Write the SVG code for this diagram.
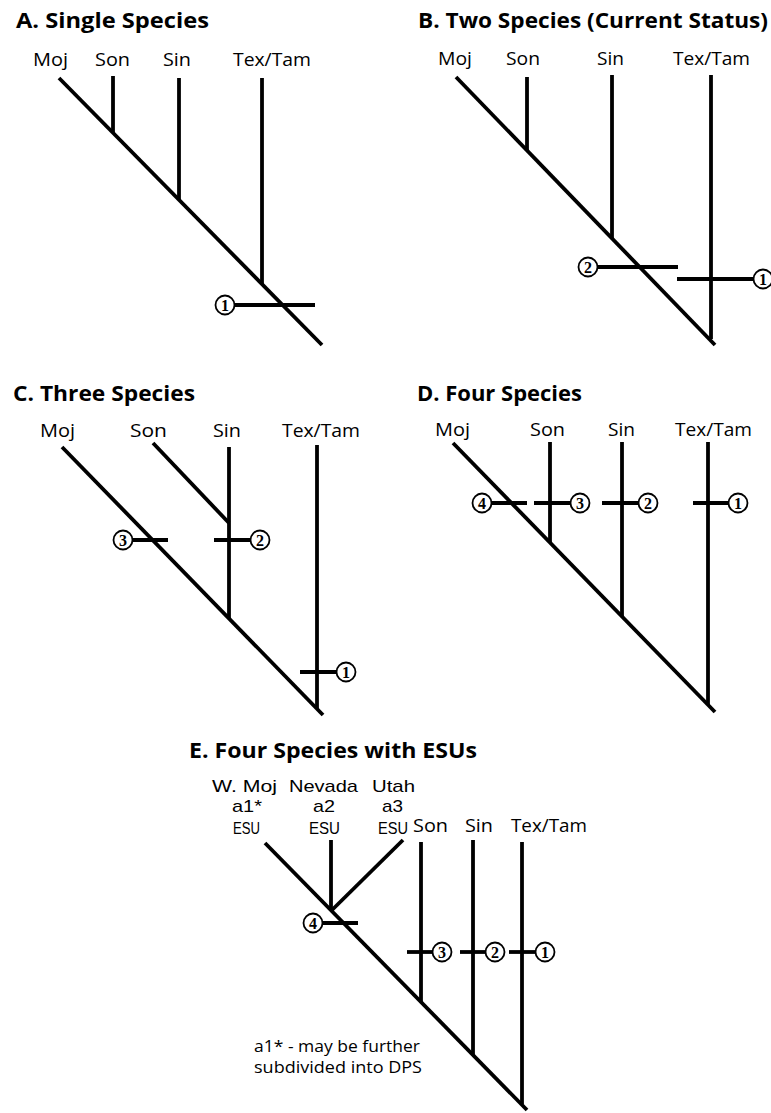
<svg xmlns="http://www.w3.org/2000/svg" width="771" height="1113" viewBox="0 0 771 1113">
<style>
.t{font-family:"Open Sans","Liberation Sans",sans-serif;font-weight:700;font-size:21px;fill:#000}
.l{font-family:"Open Sans","Liberation Sans",sans-serif;font-size:18px;fill:#000}
.e{font-family:"Liberation Sans","Open Sans",sans-serif;font-size:17px;fill:#000}
.s{font-family:"Liberation Sans","Open Sans",sans-serif;font-size:16px;fill:#000}
.f{font-family:"Open Sans","Liberation Sans",sans-serif;font-size:15.5px;fill:#000}
.br{stroke:#000;stroke-width:3.8;fill:none;stroke-linecap:butt}
.c{fill:#fff;stroke:#000;stroke-width:1.8}
.n{font-family:"Liberation Serif",serif;font-weight:700;font-size:16px;fill:#000;text-anchor:middle}
</style>
<rect width="771" height="1113" fill="#fff"/>

<g id="panelA">
<text class="t" x="16" y="28" textLength="193" lengthAdjust="spacingAndGlyphs">A.  Single Species</text>
<g id="A-labels">
<text class="l" x="33" y="66" textLength="35" lengthAdjust="spacingAndGlyphs">Moj</text>
<text class="l" x="95" y="66" textLength="35" lengthAdjust="spacingAndGlyphs">Son</text>
<text class="l" x="163" y="66" textLength="28" lengthAdjust="spacingAndGlyphs">Sin</text>
<text class="l" x="233" y="66" textLength="78" lengthAdjust="spacingAndGlyphs">Tex/Tam</text>
</g>
<g id="A-branches">
<line class="br" x1="59" y1="78" x2="322" y2="345"/>
<line class="br" x1="113" y1="76" x2="113" y2="133"/>
<line class="br" x1="179" y1="78" x2="179" y2="200"/>
<line class="br" x1="262" y1="78" x2="262" y2="284"/>
<line class="br" x1="234" y1="305" x2="315" y2="305"/>
</g>
<g id="A-m1"><circle class="c" cx="225" cy="305" r="9.5"/><text class="n" x="225" y="310.5">1</text></g>
</g>

<g id="panelB">
<text class="t" x="418" y="28" textLength="350" lengthAdjust="spacingAndGlyphs">B. Two Species (Current Status)</text>
<g id="B-labels">
<text class="l" x="438" y="65" textLength="34" lengthAdjust="spacingAndGlyphs">Moj</text>
<text class="l" x="506" y="65" textLength="34" lengthAdjust="spacingAndGlyphs">Son</text>
<text class="l" x="597" y="65" textLength="27" lengthAdjust="spacingAndGlyphs">Sin</text>
<text class="l" x="673" y="65" textLength="77" lengthAdjust="spacingAndGlyphs">Tex/Tam</text>
</g>
<g id="B-branches">
<line class="br" x1="456" y1="77" x2="715" y2="345"/>
<line class="br" x1="527" y1="77" x2="527" y2="150"/>
<line class="br" x1="612" y1="75" x2="612" y2="238"/>
<line class="br" x1="711" y1="75" x2="711" y2="339"/>
<line class="br" x1="597" y1="267" x2="678" y2="267"/>
<line class="br" x1="677" y1="279" x2="754" y2="279"/>
</g>
<g id="B-m2"><circle class="c" cx="588" cy="267" r="9.5"/><text class="n" x="588" y="272.5">2</text></g>
<g id="B-m1"><circle class="c" cx="763" cy="279" r="9.5"/><text class="n" x="763" y="284.5">1</text></g>
</g>

<g id="panelC">
<text class="t" x="13" y="401" textLength="182" lengthAdjust="spacingAndGlyphs">C. Three Species</text>
<g id="C-labels">
<text class="l" x="40" y="437" textLength="35" lengthAdjust="spacingAndGlyphs">Moj</text>
<text class="l" x="130" y="437" textLength="37" lengthAdjust="spacingAndGlyphs">Son</text>
<text class="l" x="213" y="437" textLength="28" lengthAdjust="spacingAndGlyphs">Sin</text>
<text class="l" x="282" y="437" textLength="78" lengthAdjust="spacingAndGlyphs">Tex/Tam</text>
</g>
<g id="C-branches">
<line class="br" x1="62" y1="447" x2="323" y2="715"/>
<line class="br" x1="153" y1="443" x2="229" y2="523"/>
<line class="br" x1="229" y1="447" x2="229" y2="618"/>
<line class="br" x1="317" y1="445" x2="317" y2="709"/>
<line class="br" x1="132" y1="540" x2="168" y2="540"/>
<line class="br" x1="214" y1="540" x2="251" y2="540"/>
<line class="br" x1="300" y1="672" x2="337" y2="672"/>
</g>
<g id="C-m3"><circle class="c" cx="123" cy="540" r="9.5"/><text class="n" x="123" y="545.5">3</text></g>
<g id="C-m2"><circle class="c" cx="260" cy="540" r="9.5"/><text class="n" x="260" y="545.5">2</text></g>
<g id="C-m1"><circle class="c" cx="346" cy="672" r="9.5"/><text class="n" x="346" y="677.5">1</text></g>
</g>

<g id="panelD">
<text class="t" x="417" y="401" textLength="165" lengthAdjust="spacingAndGlyphs">D. Four Species</text>
<g id="D-labels">
<text class="l" x="435" y="436" textLength="35" lengthAdjust="spacingAndGlyphs">Moj</text>
<text class="l" x="530" y="436" textLength="35" lengthAdjust="spacingAndGlyphs">Son</text>
<text class="l" x="608" y="436" textLength="27" lengthAdjust="spacingAndGlyphs">Sin</text>
<text class="l" x="675" y="436" textLength="77" lengthAdjust="spacingAndGlyphs">Tex/Tam</text>
</g>
<g id="D-branches">
<line class="br" x1="453" y1="443" x2="715" y2="712"/>
<line class="br" x1="550" y1="442" x2="550" y2="543"/>
<line class="br" x1="622" y1="442" x2="622" y2="617"/>
<line class="br" x1="708" y1="442" x2="708" y2="705"/>
<line class="br" x1="491" y1="503" x2="527" y2="503"/>
<line class="br" x1="534" y1="503" x2="571" y2="503"/>
<line class="br" x1="602" y1="503" x2="639" y2="503"/>
<line class="br" x1="693" y1="503" x2="729" y2="503"/>
</g>
<g id="D-m4"><circle class="c" cx="482" cy="503" r="9.5"/><text class="n" x="482" y="508.5">4</text></g>
<g id="D-m3"><circle class="c" cx="580" cy="503" r="9.5"/><text class="n" x="580" y="508.5">3</text></g>
<g id="D-m2"><circle class="c" cx="648" cy="503" r="9.5"/><text class="n" x="648" y="508.5">2</text></g>
<g id="D-m1"><circle class="c" cx="738" cy="503" r="9.5"/><text class="n" x="738" y="508.5">1</text></g>
</g>

<g id="panelE">
<text class="t" x="189" y="758" textLength="288" lengthAdjust="spacingAndGlyphs">E.  Four Species with ESUs</text>
<g id="E-labels">
<text class="e" x="212" y="792" textLength="65" lengthAdjust="spacingAndGlyphs">W. Moj</text>
<text class="e" x="289" y="792" textLength="69" lengthAdjust="spacingAndGlyphs">Nevada</text>
<text class="e" x="372" y="792" textLength="43" lengthAdjust="spacingAndGlyphs">Utah</text>
<text class="e" x="232" y="812" textLength="30" lengthAdjust="spacingAndGlyphs">a1*</text>
<text class="e" x="313" y="812" textLength="22" lengthAdjust="spacingAndGlyphs">a2</text>
<text class="e" x="382" y="812" textLength="21" lengthAdjust="spacingAndGlyphs">a3</text>
<text class="s" x="233" y="834" textLength="27" lengthAdjust="spacingAndGlyphs">ESU</text>
<text class="s" x="309" y="834" textLength="31" lengthAdjust="spacingAndGlyphs">ESU</text>
<text class="s" x="378" y="834" textLength="30" lengthAdjust="spacingAndGlyphs">ESU</text>
<text class="l" x="413" y="832" textLength="35" lengthAdjust="spacingAndGlyphs">Son</text>
<text class="l" x="465" y="832" textLength="28" lengthAdjust="spacingAndGlyphs">Sin</text>
<text class="l" x="511" y="832" textLength="76" lengthAdjust="spacingAndGlyphs">Tex/Tam</text>
</g>
<g id="E-branches">
<line class="br" x1="265" y1="843" x2="527" y2="1110"/>
<line class="br" x1="331" y1="840" x2="331" y2="911"/>
<line class="br" x1="403" y1="840" x2="331" y2="911"/>
<line class="br" x1="421" y1="842" x2="421" y2="1002"/>
<line class="br" x1="473" y1="840" x2="473" y2="1055"/>
<line class="br" x1="522" y1="842" x2="522" y2="1104"/>
<line class="br" x1="322" y1="923" x2="358" y2="923"/>
<line class="br" x1="407" y1="952" x2="433" y2="952"/>
<line class="br" x1="460" y1="952" x2="486" y2="952"/>
<line class="br" x1="509" y1="952" x2="536" y2="952"/>
</g>
<g id="E-m4"><circle class="c" cx="313" cy="923" r="9.5"/><text class="n" x="313" y="928.5">4</text></g>
<g id="E-m3"><circle class="c" cx="442" cy="952" r="9.5"/><text class="n" x="442" y="957.5">3</text></g>
<g id="E-m2"><circle class="c" cx="495" cy="952" r="9.5"/><text class="n" x="495" y="957.5">2</text></g>
<g id="E-m1"><circle class="c" cx="545" cy="952" r="9.5"/><text class="n" x="545" y="957.5">1</text></g>
<g id="E-note">
<text class="f" x="254" y="1052" textLength="166" lengthAdjust="spacingAndGlyphs">a1* - may be further</text>
<text class="f" x="254" y="1073" textLength="168" lengthAdjust="spacingAndGlyphs">subdivided into DPS</text>
</g>
</g>
</svg>
